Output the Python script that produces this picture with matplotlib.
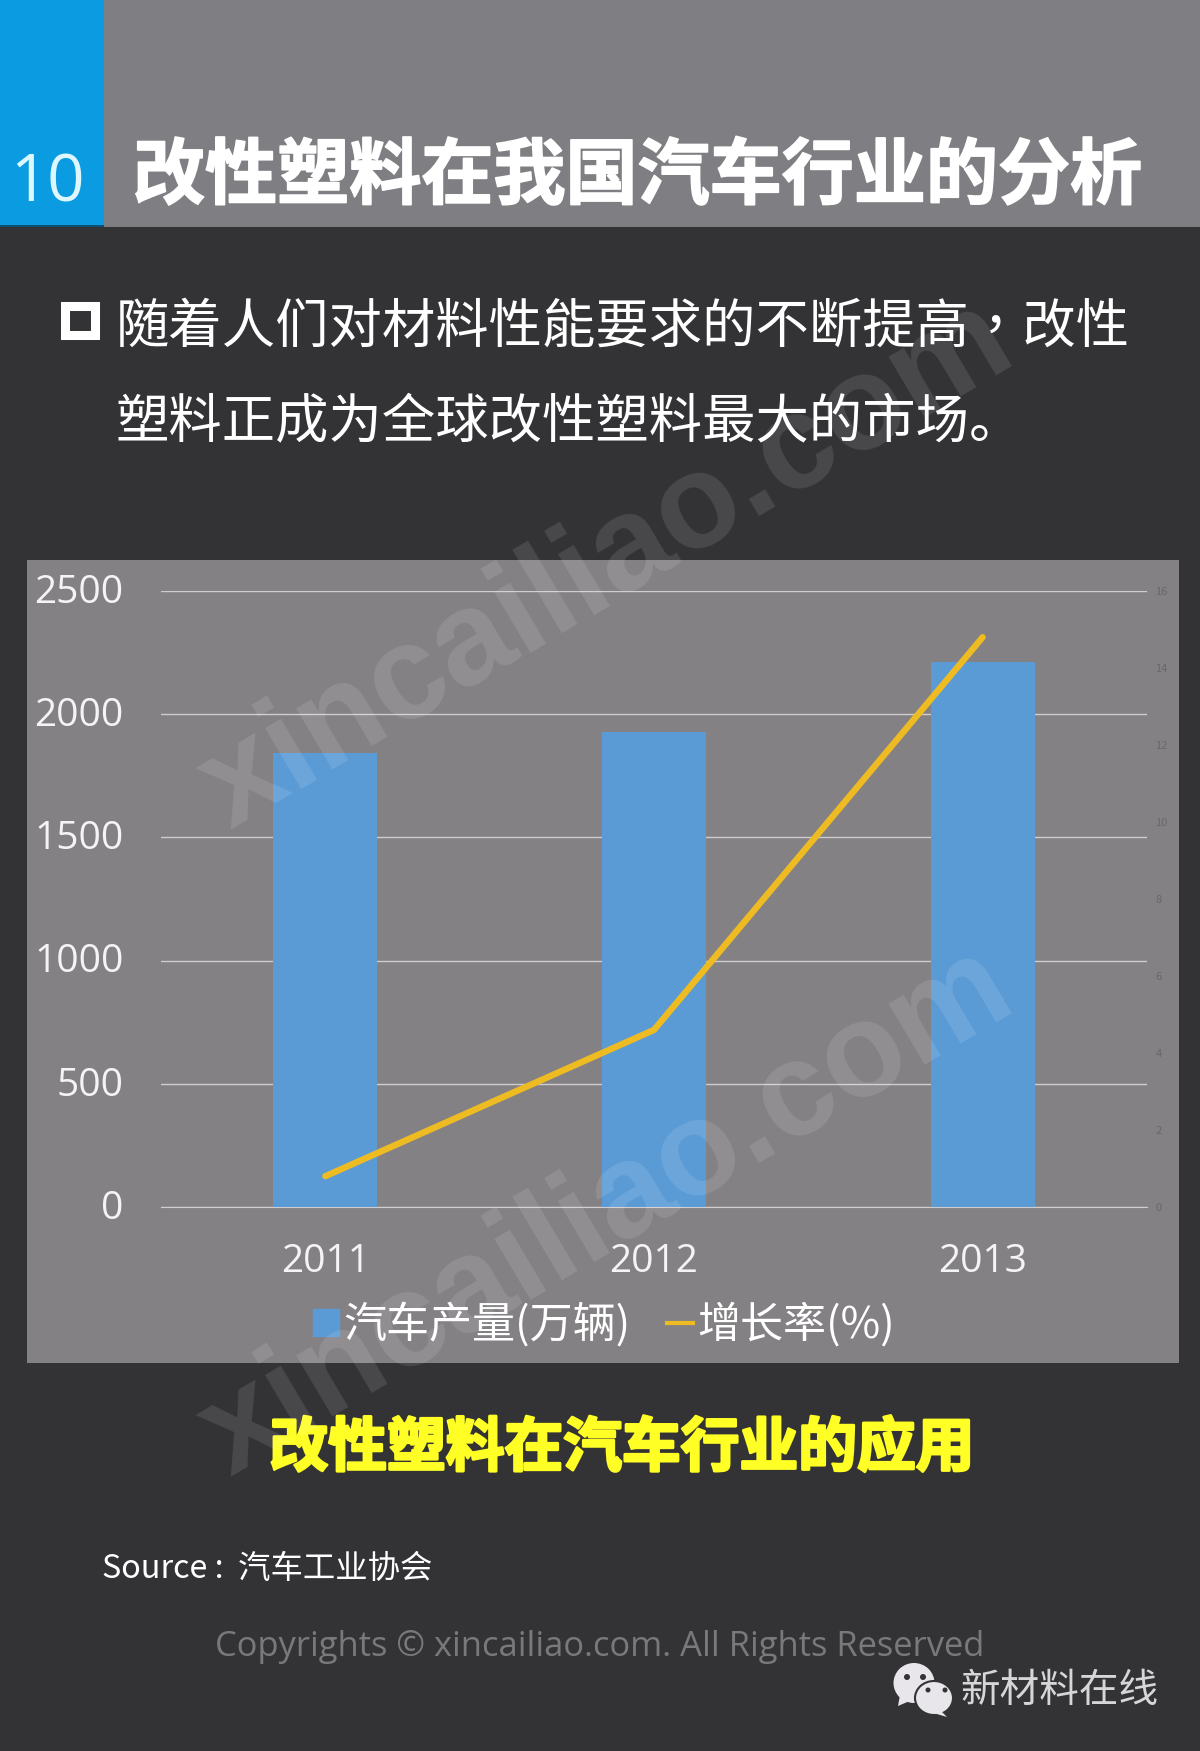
import matplotlib
matplotlib.use("Agg")
import matplotlib.pyplot as plt
import matplotlib.patheffects as pe
from matplotlib.lines import Line2D
from matplotlib.patches import Ellipse, Patch, Polygon, Rectangle
from matplotlib.transforms import ScaledTranslation

plt.rcParams['font.family'] = ['Noto Sans CJK SC', 'DejaVu Sans']

years = ['2011', '2012', '2013']
output = [1841, 1927, 2212]       # 汽车产量(万辆)
growth = [0.8, 4.6, 14.8]         # 增长率(%)
left_ticks = [0, 500, 1000, 1500, 2000, 2500]
right_ticks = [0, 2, 4, 6, 8, 10, 12, 14, 16]

title = '改性塑料在我国汽车行业的分析'
body_1 = '随着人们对材料性能要求的不断提高，改性'
body_2 = '塑料正成为全球改性塑料最大的市场。'
subtitle = '改性塑料在汽车行业的应用'
source = 'Source :  汽车工业协会'
copyright_text = 'Copyrights © xincailiao.com. All Rights Reserved'
account = '新材料在线'
watermark = 'xincailiao.com'

W, H = 1200, 1751
BG = '#333235'
PANEL = '#848185'
BLUE = '#5b9bd5'
YELLOW = '#eebb22'

fig = plt.figure(figsize=(W / 100, H / 100), dpi=100, facecolor=BG)

# page furniture in pixel coordinates
page = fig.add_axes([0, 0, 1, 1], zorder=-1)
page.set_xlim(0, W)
page.set_ylim(H, 0)
page.axis('off')
page.add_patch(Rectangle((0, 0), W, 227, color='#7f7e82', lw=0))
page.add_patch(Rectangle((0, 225), 104, 2, color='#0b4f73', lw=0))
page.add_patch(Rectangle((0, 0), 104, 225, color='#0a9be0', lw=0))
page.add_patch(Rectangle((27, 560), 1152, 803, color=PANEL, lw=0))
page.add_patch(Rectangle((64.5, 306.5), 30, 29, fill=False, ec='white', lw=6.5))

page.text(47, 184, '10', color='#def7ff', fontsize=47, family='Open Sans', ha='center', va='center')
page.text(133, 177, title, color='white', fontsize=51.9, weight='bold', va='center',
          path_effects=[pe.withStroke(linewidth=1.2, foreground='white')])
# the TC cut centres the full-width comma, as the reference does
page.text(116, 327, body_1, color='white', fontsize=38.4, va='center', family='Noto Sans CJK TC')
page.text(116, 423, body_2, color='white', fontsize=38.4, va='center')
page.text(622, 1449, subtitle, color='#ffff26', fontsize=42.3, weight='bold', ha='center', va='center',
          path_effects=[pe.withStroke(linewidth=2, foreground='#ffff26')])
page.text(102, 1569, source, color='white', fontsize=23.3, va='center')
page.text(600, 1647, copyright_text, color='#79787c', fontsize=24.8, family='Open Sans', ha='center', va='center')
page.text(960, 1691, account, color='#d6d6d8', fontsize=28.5, va='center')

# wechat mark
ICON = '#e8e6ea'
page.add_patch(Ellipse((914, 1683), 41, 40, color=ICON, lw=0))
page.add_patch(Polygon([[900, 1695], [898, 1706], [912, 1700]], color=ICON, lw=0))
page.add_patch(Ellipse((934, 1698), 38, 34, fc=ICON, ec=BG, lw=1.5))
page.add_patch(Polygon([[940, 1710], [947, 1717], [930, 1712]], color=ICON, lw=0))
for ex, ey, er in [(907, 1677, 3), (923, 1677, 3), (928, 1690, 2.5), (945, 1690, 2.5)]:
    page.add_patch(Ellipse((ex, ey), er * 2, er * 2, color=BG, lw=0))

# chart
left, right = 161, 1147
top, bottom = 591, 1207
ax = fig.add_axes([left / W, 1 - bottom / H, (right - left) / W, (bottom - top) / H])
ax.patch.set_alpha(0)
x = list(range(len(years)))
ax.bar(x, output, width=0.316, color=BLUE, zorder=2)
ax.set_xlim(-0.5, 2.5)
ax.set_ylim(0, 2500)
ax.set_xticks(x, years)
ax.set_yticks(left_ticks)
ax.grid(axis='y', color='#cfcdd0', lw=1, zorder=1)
ax.set_axisbelow(True)
ax.tick_params(axis='y', length=0, labelcolor='#f4f4f4', labelsize=28, pad=27)
ax.tick_params(axis='x', length=0, labelcolor='#f4f4f4', labelsize=28, pad=26)
nudge_up = ScaledTranslation(0, 2 / 72, fig.dpi_scale_trans)
for lab in ax.get_yticklabels():
    lab.set_family('Open Sans')
    lab.set_transform(lab.get_transform() + nudge_up)
for lab in ax.get_xticklabels():
    lab.set_family('Open Sans')
for name, spine in ax.spines.items():
    spine.set_visible(name == 'bottom')
ax.spines['bottom'].set_color('#cfcdd0')

ax2 = ax.twinx()
ax2.plot(x, growth, color=YELLOW, lw=4.6, solid_capstyle='round', zorder=3)
ax2.set_ylim(0, 16)
ax2.set_yticks(right_ticks)
ax2.tick_params(length=0, labelcolor='#6a676b', labelsize=8, pad=6)
for spine in ax2.spines.values():
    spine.set_visible(False)

handles = [Patch(color=BLUE), Line2D([0], [0], color=YELLOW, lw=3)]
ax2.legend(handles, ['汽车产量(万辆)', '增长率(%)'], loc='center', frameon=False,
           bbox_to_anchor=(604 / W, 1 - 1325 / H), bbox_transform=fig.transFigure,
           ncol=2, fontsize=31, labelcolor='white', handlelength=0.6, handleheight=0.6,
           handletextpad=0.1, columnspacing=0.84, borderpad=0)

# site watermark on top of everything
for wx, wy in [(607, 566), (607, 1213)]:
    fig.text(wx / W, 1 - wy / H, watermark, color='white', alpha=0.11, fontsize=96, weight='bold',
             family='Liberation Sans', rotation=30.7, ha='center', va='center', rotation_mode='anchor')

fig.savefig('out.png', dpi=100, facecolor=BG)
